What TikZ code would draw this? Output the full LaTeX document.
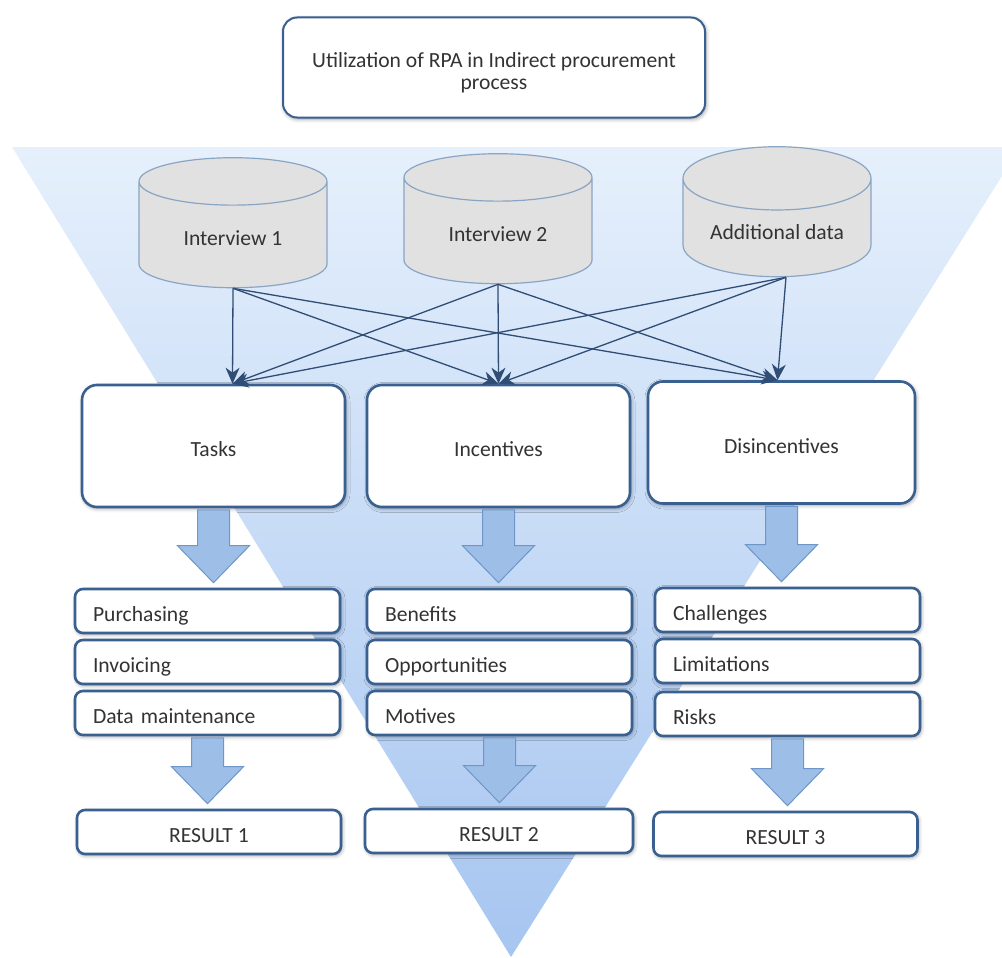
\documentclass[tikz,border=0pt]{standalone}
\usepackage{fontspec}
\setmainfont{Carlito}
\usetikzlibrary{shapes.geometric,arrows.meta,calc,shadows.blur}

\definecolor{edge}{HTML}{3A6090}
\definecolor{fatfill}{HTML}{9DBEE6}
\definecolor{fatedge}{HTML}{6E96C8}
\definecolor{cylfill}{HTML}{E1E1E1}
\definecolor{cyledge}{HTML}{8AA4C4}
\definecolor{linkc}{HTML}{2F4D75}
\definecolor{txt}{HTML}{333333}
\definecolor{funtop}{HTML}{E6F0FC}
\definecolor{funbot}{HTML}{A6C5F0}

% down-pointing block arrow from the bottom of one box to the top of the next
\newcommand\fatarrow[2]{%
  \path[fatstyle] let \p1=(#1.south), \p2=(#2.north) in
    ({\x1-16pt},{\y1-1.5pt}) -- ({\x1-16pt},{\y2+42pt}) -- ({\x1-36pt},{\y2+42pt})
    -- (\x1,{\y2+5pt}) -- ({\x1+36pt},{\y2+42pt}) -- ({\x1+16pt},{\y2+42pt})
    -- ({\x1+16pt},{\y1-1.5pt}) -- cycle;}

\begin{document}
\begin{tikzpicture}[x=1pt,y=-1pt,
  font=\fontsize{21.6}{23}\selectfont,
  softshadow/.style={blur shadow={shadow xshift=1pt,shadow yshift=-1.5pt,
      shadow blur radius=4pt,shadow opacity=40}},
  lowtext/.style={text height=24pt,text depth=3pt},
  titlebox/.style={draw=edge,line width=2pt,rounded corners=14pt,fill=white,
      text=txt,align=center,softshadow,minimum width=422pt,minimum height=100pt,
      text height=48pt,text depth=3pt},
  bigbox/.style={draw=edge,line width=2.6pt,rounded corners=15pt,fill=white,
      text=txt,softshadow,lowtext,minimum width=263pt,minimum height=122pt},
  itembox/.style={draw=edge,line width=2.6pt,rounded corners=8pt,fill=white,
      text=txt,softshadow,lowtext,minimum height=44pt,text width=229pt,
      inner xsep=18pt,align=left},
  resultbox/.style={draw=edge,line width=2.6pt,rounded corners=8pt,fill=white,
      text=txt,softshadow,lowtext,minimum height=44pt,minimum width=264pt},
  cyl/.style={cylinder,shape border rotate=90,aspect=0.45,draw=cyledge,
      line width=1.2pt,fill=cylfill,text=txt,minimum width=188pt,
      minimum height=130pt},
  link/.style={draw=linkc,line width=1.3pt,
      -{Stealth[length=16pt,width=14pt,inset=5pt]}},
  fatstyle/.style={fill=fatfill,draw=fatedge,line width=1pt}]

\useasboundingbox (0,0) rectangle (1002,958);

% funnel in the background
\shade[top color=funtop,bottom color=funbot]
  (12,147) -- (1002,147) -- (1002,176) -- (511,957) -- cycle;

% heading
\node[titlebox] (title) at (494,67.5)
  {Utilization of RPA in Indirect procurement\\process};

% data sources
\node[cyl] (i1) at (233,238) {Interview 1};
\node[cyl] (i2) at (498,234) {Interview 2};
\node[cyl] (ad) at (777,232) {Additional data};

% categories
\node[bigbox] (tasks) at (213.5,446) {Tasks};
\node[bigbox] (inc) at (498.5,446) {Incentives};
\node[bigbox,minimum width=267pt] (dis) at (781.5,442.5) {Disincentives};

% targets of the links
\coordinate (tT) at ([xshift=19pt]tasks.north);
\coordinate (tI) at (inc.north);
\coordinate (tD) at ([xshift=-4pt]dis.north);
\coordinate (sA) at ([xshift=9pt]ad.south);

\foreach \s in {i1,i2,sA}{
  \foreach \t in {tT,tI,tD}{
    \draw[link] (\s.south) -- (\t);
  }
}

% items of each category
\node[itembox] (p1) at (207.5,611) {Purchasing};
\node[itembox] (p2) at (207.5,662) {Invoicing};
\node[itembox] (p3) at (207.5,713) {Data maintenance};

\node[itembox] (b1) at (499.5,611) {Benefits};
\node[itembox] (b2) at (499.5,662) {Opportunities};
\node[itembox] (b3) at (499.5,713) {Motives};

\node[itembox] (c1) at (787.5,610) {Challenges};
\node[itembox] (c2) at (787.5,661) {Limitations};
\node[itembox] (c3) at (787.5,714) {Risks};

% results
\node[resultbox] (r1) at (209,832) {RESULT 1};
\node[resultbox,minimum width=268pt] (r2) at (499,831) {RESULT 2};
\node[resultbox] (r3) at (785.5,834) {RESULT 3};

% block arrows
\fatarrow{tasks}{p1}
\fatarrow{inc}{b1}
\fatarrow{dis}{c1}
\fatarrow{p3}{r1}
\fatarrow{b3}{r2}
\fatarrow{c3}{r3}

\end{tikzpicture}
\end{document}
